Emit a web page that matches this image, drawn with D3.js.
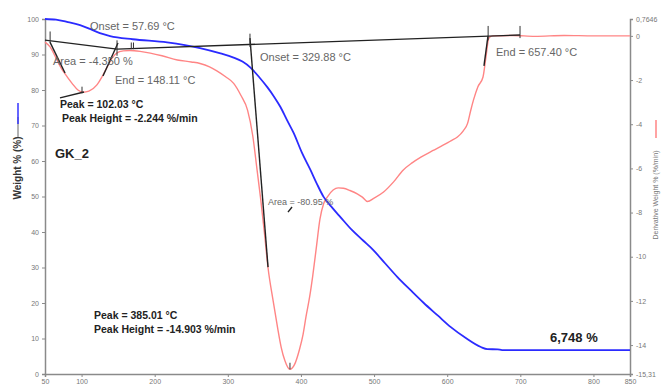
<!DOCTYPE html>
<html>
<head>
<meta charset="utf-8">
<script src="https://cdn.jsdelivr.net/npm/d3@7"></script>
<style>
  body { margin: 0; background: #fff; }
  svg { display: block; font-family: "Liberation Sans", Arial, sans-serif; }
</style>
</head>
<body>
<div id="chart"></div>
<script>
// weight curve (temperature °C, weight %)
const weightT = [50, 65, 80, 98, 111.5, 125, 139, 170, 217, 262, 290, 307, 320, 331, 343, 354, 363, 372, 381, 390, 401, 413, 422, 431, 443, 454, 470, 485, 499, 515, 532, 550, 568, 587, 605, 625, 646, 655, 669, 675, 850];
const weightV = [100, 99.8, 99.2, 98.3, 97.2, 96, 95.2, 94.3, 93.4, 91.8, 90.3, 89.2, 88, 86.3, 83.6, 80.8, 78.2, 75.2, 71.5, 67.9, 62.5, 57.5, 53.5, 49.9, 46.8, 44.2, 40.5, 37.6, 34.9, 31.2, 27.3, 23.6, 20, 16.5, 13.2, 10.2, 7.6, 7.0, 6.95, 6.75, 6.75];

// derivative curve (temperature °C, %/min)
const derivT = [50, 57, 65, 72, 77, 87, 95, 102, 110, 121, 128, 135, 142, 148, 157, 166, 180, 194, 210, 231, 250, 262, 275, 285, 297, 308, 318, 327, 334, 340, 345, 350, 355, 362, 368, 373, 378, 385, 391, 398, 403, 407, 412, 416, 421, 426, 431, 436, 444, 451, 458, 467, 477, 484, 491, 500, 513, 527, 540, 552, 564, 580, 595, 605, 614, 622, 628, 632, 636, 642, 649, 653, 657, 662, 690, 720, 760, 800, 850];
const derivV = [-0.28, -0.5, -1.0, -1.45, -1.7, -2.15, -2.45, -2.55, -2.5, -2.22, -1.85, -1.41, -1.0, -0.78, -0.68, -0.66, -0.7, -0.78, -0.9, -1.09, -1.18, -1.25, -1.4, -1.58, -1.85, -2.15, -2.7, -3.36, -4.5, -6.07, -7.4, -8.9, -10.5, -12.0, -13.2, -14.1, -14.7, -15.1, -14.9, -14.2, -13.5, -12.7, -11.8, -10.9, -9.6, -8.3, -7.6, -7.3, -6.98, -6.88, -6.9, -7.0, -7.15, -7.3, -7.5, -7.35, -7.07, -6.6, -6.07, -5.75, -5.49, -5.2, -4.94, -4.75, -4.58, -4.3, -3.95, -3.4, -2.9, -2.3, -1.86, -0.96, -0.1, 0.0, 0.02, -0.02, 0.02, 0.0, 0.0];

// ticks
const xTicks = [50, 100, 200, 300, 400, 500, 600, 700, 800, 850];
const leftTicks = [0, 10, 20, 30, 40, 50, 60, 70, 80, 90, 100];
const rightTicks = [0.7646, 0, -2, -4, -6, -8, -10, -12, -14, -15.31];

// annotation construction lines, in (°C, %/min)
const constructLines = [
  [[50, -0.19], [148.5, -0.6]],
  [[148.5, -0.6], [699.6, 0.04]],
  [[56.8, -0.28], [77.4, -1.68]],
  [[129.3, -1.82], [149.8, -0.32]],
  [[70.5, -2.81], [103.3, -2.54]],
  [[330.3, -0.1], [355, -10.47]],
  [[655.8, 0.0], [650.3, -1.36]],
  [[382.3, -7.98], [387.8, -7.75]]
];
const markTicks = [
  [57, 0.2, -0.3], [148.5, -0.2, -0.9], [168, -0.3, -0.6], [171, -0.3, -0.6],
  [330.3, 0.1, -0.5], [656, 0.45, -0.2], [699.6, 0.45, -0.1],
  [100.6, -2.3, -2.6], [385, -14.8, -15.1]
];

const labels = [
  { t: 'Onset = 57.69 °C', x: 90, y: 30, bold: false, size: 11 },
  { t: 'Area = -4.350 %', x: 53, y: 65, bold: false, size: 11 },
  { t: 'End = 148.11 °C', x: 115, y: 84, bold: false, size: 11 },
  { t: 'Peak = 102.03 °C', x: 60, y: 108, bold: true, size: 10.5 },
  { t: 'Peak Height = -2.244 %/min', x: 62, y: 122, bold: true, size: 10.5 },
  { t: 'GK_2', x: 55, y: 158, bold: true, size: 13 },
  { t: 'Onset = 329.88 °C', x: 260, y: 61, bold: false, size: 11 },
  { t: 'End = 657.40 °C', x: 496, y: 56, bold: false, size: 11 },
  { t: 'Area = -80.95 %', x: 268, y: 205, bold: false, size: 9 },
  { t: 'Peak = 385.01 °C', x: 94, y: 319, bold: true, size: 10.5 },
  { t: 'Peak Height = -14.903 %/min', x: 94, y: 333, bold: true, size: 10.5 },
  { t: '6,748 %', x: 550, y: 342, bold: true, size: 13 }
];

const W = 663, H = 385;
const svg = d3.select('#chart').append('svg')
  .attr('width', W)
  .attr('height', H);

const x = d3.scaleLinear().domain([50, 850]).range([45, 630]);
const yL = d3.scaleLinear().domain([0, 100]).range([374, 19]);
const yR = d3.scaleLinear().domain([-15.31, 0.7646]).range([374, 19]);

const axisColor = '#8a8a8a';
const tickText = '#777';

// axes
const gx = svg.append('g').attr('transform', 'translate(0,374)')
  .call(d3.axisBottom(x).tickValues(xTicks).tickSize(3).tickPadding(2).tickFormat(d3.format('d')));
const gl = svg.append('g').attr('transform', 'translate(45,0)')
  .call(d3.axisLeft(yL).tickValues(leftTicks).tickSize(3).tickPadding(3));
const gr = svg.append('g').attr('transform', 'translate(630,0)')
  .call(d3.axisRight(yR).tickValues(rightTicks).tickSize(3).tickPadding(3)
    .tickFormat(d => d === 0 ? '0' : String(d).replace('.', ',')));

[gx, gl, gr].forEach(g => {
  g.select('.domain').attr('stroke', axisColor).attr('stroke-width', 1.5);
  g.selectAll('.tick line').attr('stroke', axisColor);
  g.selectAll('.tick text').attr('fill', tickText).style('font-size', '7px');
});

// derivative curve
const lineR = d3.line().x(d => x(d[0])).y(d => yR(d[1])).curve(d3.curveMonotoneX);
svg.append('path')
  .datum(derivT.map((t, i) => [t, derivV[i]]))
  .attr('d', lineR)
  .attr('fill', 'none')
  .attr('stroke', '#ff8585')
  .attr('stroke-width', 1.4);

// weight curve
const lineL = d3.line().x(d => x(d[0])).y(d => yL(d[1])).curve(d3.curveMonotoneX);
svg.append('path')
  .datum(weightT.map((t, i) => [t, weightV[i]]))
  .attr('d', lineL)
  .attr('fill', 'none')
  .attr('stroke', '#2b2bff')
  .attr('stroke-width', 1.8);

// construction lines
const seg = d3.line().x(d => x(d[0])).y(d => yR(d[1]));
svg.selectAll('path.cl')
  .data(constructLines)
  .enter()
  .append('path')
  .attr('class', 'cl')
  .attr('d', seg)
  .attr('stroke', '#222')
  .attr('stroke-width', 1.4)
  .attr('fill', 'none');

svg.selectAll('line.mk')
  .data(markTicks)
  .enter()
  .append('line')
  .attr('class', 'mk')
  .attr('x1', d => x(d[0])).attr('x2', d => x(d[0]))
  .attr('y1', d => yR(d[1])).attr('y2', d => yR(d[2]))
  .attr('stroke', '#333')
  .attr('stroke-width', 1);

// annotation labels
svg.selectAll('text.lab')
  .data(labels)
  .enter()
  .append('text')
  .attr('class', 'lab')
  .attr('x', d => d.x)
  .attr('y', d => d.y)
  .attr('fill', d => d.bold ? '#222' : '#666')
  .style('font-weight', d => d.bold ? 'bold' : 'normal')
  .style('font-size', d => d.size + 'px')
  .text(d => d.t);

// left axis title
const lt = svg.append('g').attr('transform', 'translate(21,168) rotate(-90)');
lt.append('text')
  .attr('text-anchor', 'middle')
  .attr('fill', '#333')
  .style('font-weight', 'bold')
  .style('font-size', '10px')
  .text('Weight % (%)');
svg.append('line').attr('x1', 18).attr('x2', 18).attr('y1', 117).attr('y2', 137)
  .attr('stroke', '#666').attr('stroke-width', 1);
svg.append('line').attr('x1', 18).attr('x2', 18).attr('y1', 103).attr('y2', 124)
  .attr('stroke', '#3333ff').attr('stroke-width', 1.5);

// right axis title
const rt = svg.append('g').attr('transform', 'translate(658,195) rotate(-90)');
rt.append('text')
  .attr('text-anchor', 'middle')
  .attr('fill', '#777')
  .style('font-size', '7px')
  .text('Derivative Weight % (%/min)');
svg.append('line').attr('x1', 656).attr('x2', 656).attr('y1', 120).attr('y2', 138)
  .attr('stroke', '#ff8585').attr('stroke-width', 1.5);
</script>
</body>
</html>
